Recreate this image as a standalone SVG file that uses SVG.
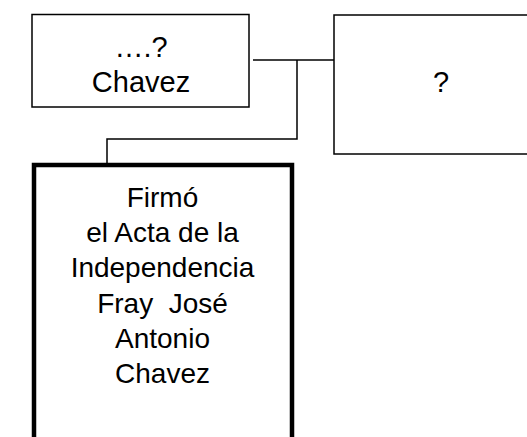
<svg xmlns="http://www.w3.org/2000/svg" width="527" height="437" viewBox="0 0 527 437">
<style>
.box{fill:#fff;stroke:#000;stroke-width:1.5}
.thick{fill:#fff;stroke:#000;stroke-width:4.5}
.t{font-family:"Liberation Sans",Arial,sans-serif;font-size:29px;fill:#000;text-anchor:middle}
.t3{font-family:"Liberation Sans",Arial,sans-serif;font-size:28px;fill:#000;text-anchor:middle}
.c{fill:none;stroke:#000;stroke-width:1.5}
</style>
<rect width="527" height="437" fill="#fff"/>
<g id="connectors">
<polyline class="c" points="253,60 335,60"/>
<polyline class="c" points="297,60 297,139 107,139 107,165"/>
</g>
<g id="node-chavez">
<rect class="box" x="32" y="14.5" width="217" height="92.5"/>
<text class="t" x="141" y="57">….?</text>
<text class="t" x="141" y="92">Chavez</text>
</g>
<g id="node-unknown">
<rect class="box" x="334" y="15" width="200" height="139"/>
<text class="t" x="441" y="92">?</text>
</g>
<g id="node-fray">
<rect class="thick" x="34" y="165" width="258" height="290"/>
<text class="t3" x="162.5" y="207">Firmó</text>
<text class="t3" x="162.5" y="242">el Acta de la</text>
<text class="t3" x="162.5" y="277">Independencia</text>
<text class="t3" x="162.5" y="313" xml:space="preserve">Fray  José</text>
<text class="t3" x="162.5" y="348">Antonio</text>
<text class="t3" x="162.5" y="383">Chavez</text>
</g>
</svg>
